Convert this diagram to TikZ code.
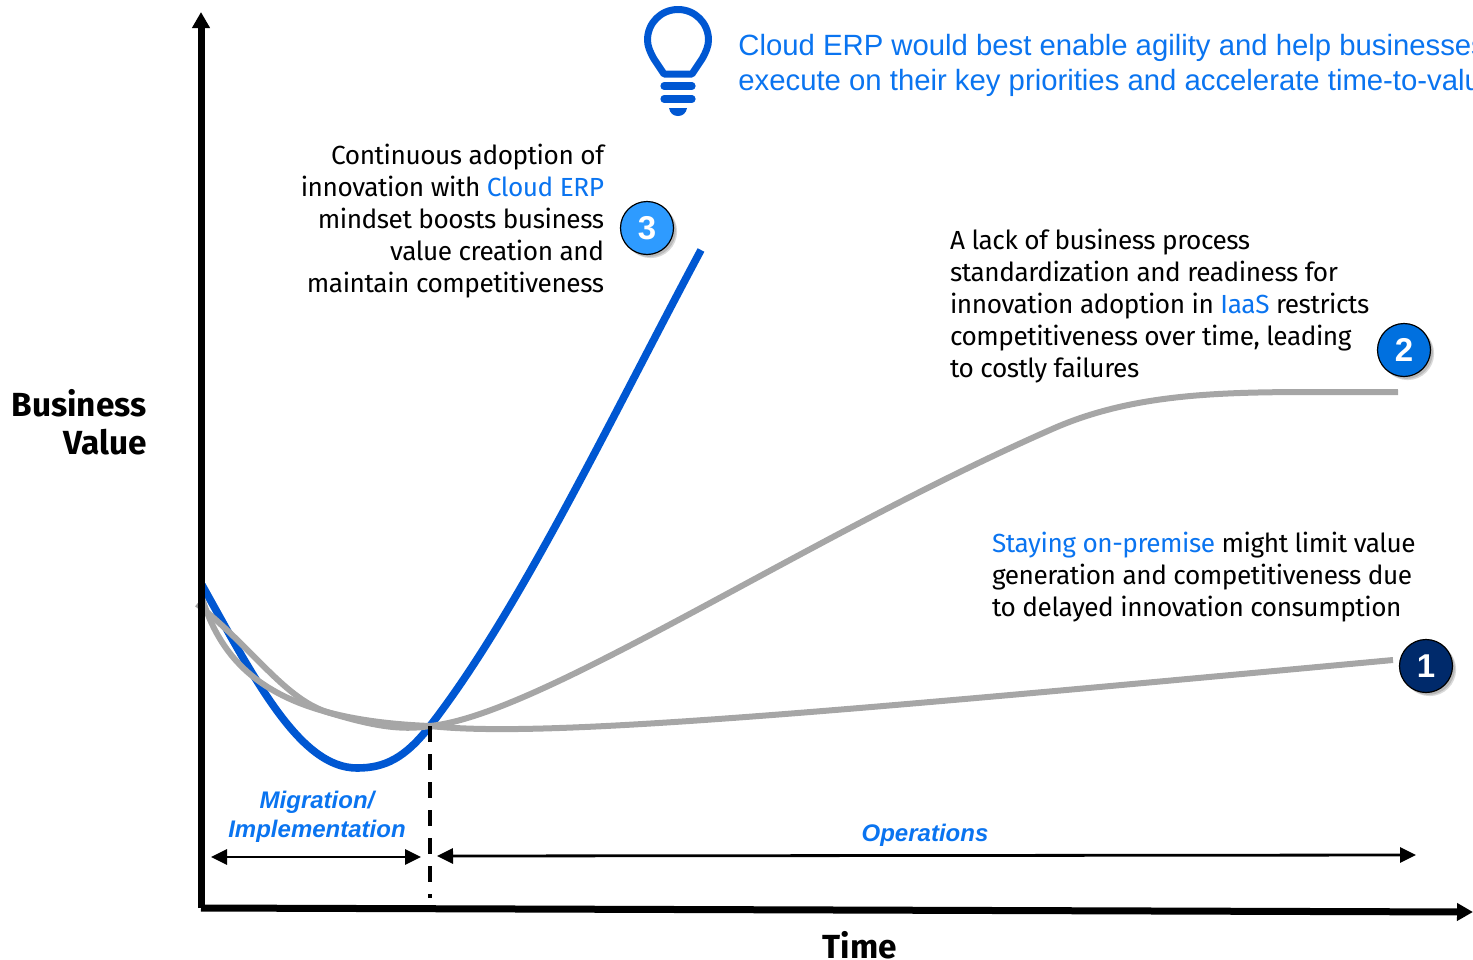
\documentclass[tikz,border=0pt]{standalone}
\usepackage{fontspec}
\setmainfont{Fira Sans}[LetterSpace=-1.7]
\newfontfamily\boldf{Fira Sans}
\newfontfamily\arialf{Liberation Sans}
\usetikzlibrary{arrows.meta,shadows}
\definecolor{txtblue}{HTML}{0A74F0}
\definecolor{linblue}{HTML}{0057D2}
\definecolor{curvegray}{HTML}{A6A6A6}
\definecolor{badgeA}{HTML}{002A6B}
\definecolor{badgeB}{HTML}{0070DF}
\definecolor{badgeC}{HTML}{2E9BFF}
\tikzset{
  x=0.5pt,y=-0.5pt,
  body/.style={inner sep=0pt,outer sep=0pt,font=\fontsize{13.1}{16}\selectfont},
  lefttxt/.style={body,anchor=north west,align=left},
  righttxt/.style={body,anchor=north east,align=right},
  headline/.style={inner sep=0pt,anchor=north west,align=left,text=txtblue,font=\arialf\fontsize{14.65}{17.5}\selectfont},
  phase/.style={inner sep=0pt,align=center,text=txtblue,font=\arialf\bfseries\itshape\fontsize{12}{14.5}\selectfont},
  axislabel/.style={inner sep=0pt,align=right,font=\boldf\bfseries\fontsize{16.7}{19}\selectfont},
  badge/.style={circle,draw=black,line width=0.6pt,minimum size=26.5pt,inner sep=0pt,text=white,
    font=\arialf\bfseries\fontsize{16.5}{16.5}\selectfont,
    drop shadow={shadow xshift=1.2pt,shadow yshift=-1.2pt,opacity=.15,fill=black},
    drop shadow={shadow xshift=1.8pt,shadow yshift=-1.8pt,opacity=.15,fill=black}},
  axisline/.style={line width=3.5pt,black,-{Triangle[length=8pt,width=8.5pt]}},
  span/.style={line width=1.4pt,black,{Triangle[length=8pt,width=7.5pt]}-{Triangle[length=8pt,width=7.5pt]}},
  graycurve/.style={line width=3pt,curvegray},
  bluecurve/.style={line width=3.8pt,linblue},
  bulb/.style={linblue,line width=3.5pt,line join=round},
  bulbbar/.style={linblue,line width=3.6pt,line cap=round}
}
\begin{document}
\begin{tikzpicture}
\useasboundingbox (0,0) rectangle (1473,959);
% curves
\coordinate (pivot) at (430,726);
\draw[bluecurve] (202,585) .. controls (255,680) and (300,768) .. (357,768) .. controls (385,768) and (405,758) .. (pivot) .. controls (520,610) and (610,420) .. (701,250);
\draw[graycurve] (202,598) .. controls (225,672) and (280,720) .. (pivot) .. controls (540,738) and (800,715) .. (1393,660);
\draw[graycurve] (197,604) .. controls (255,650) and (285,700) .. (330,713) .. controls (370,725) and (400,731) .. (pivot) .. controls (540,715) and (800,540) .. (1050,430) .. controls (1150,385) and (1260,393) .. (1398,392);
% axes
\coordinate (origin) at (201,908);
\coordinate (ytop) at (201,12);
\coordinate (xend) at (1473,912);
\draw[axisline] (origin) -- (ytop);
\draw[axisline] (origin) -- (xend);
% divider and spans
\coordinate (divend) at (430,898);
\draw[black,line width=2pt,dash pattern=on 8pt off 6pt] (pivot) -- (divend);
\coordinate (ma) at (211,857);\coordinate (mb) at (421,857);
\coordinate (oa) at (437,856);\coordinate (ob) at (1416,855);
\draw[span] (ma) -- (mb);
\draw[span] (oa) -- (ob);
% bulb
\draw[bulb] (664,74) -- (654,59) .. controls (650,52) and (647.5,46) .. (647.5,40) .. controls (647.5,23) and (661,9.5) .. (678,9.5) .. controls (695,9.5) and (708.5,23) .. (708.5,40) .. controls (708.5,46) and (706,52) .. (702,59) -- (692,74) -- cycle;
\draw[bulbbar] (664,86) -- (692,86);
\draw[bulbbar] (664,99) -- (692,99);
\fill[linblue] (669,108) -- (687,108) .. controls (686,113) and (683,116) .. (678,116) .. controls (673,116) and (670,113) .. (669,108) -- cycle;
% texts
\node[headline] (head) at (738,34) {Cloud ERP would best enable agility and help businesses\\execute on their key priorities and accelerate time-to-value};
\node[righttxt] (t3) at (604,144) {Continuous adoption of\\innovation with \textcolor{txtblue}{Cloud ERP}\\mindset boosts business\\value creation and\\maintain competitiveness};
\node[lefttxt] (t2) at (950,229) {A lack of business process\\standardization and readiness for\\innovation adoption in \textcolor{txtblue}{IaaS} restricts\\competitiveness over time, leading\\to costly failures};
\node[lefttxt] (t1) at (992,532) {\textcolor{txtblue}{Staying on-premise} might limit value\\generation and competitiveness due\\to delayed innovation consumption};
\node[axislabel,anchor=east] (by) at (147,422) {Business\\Value};
\node[axislabel] (bx) at (860,945) {Time};
\node[phase] (mig) at (317,817) {Migration/\\Implementation};
\node[phase] (ops) at (925,835) {Operations};
% badges
\node[badge,fill=badgeC] (b3) at (647,228) {3};
\node[badge,fill=badgeB] (b2) at (1404,350) {2};
\node[badge,fill=badgeA] (b1) at (1426,666) {1};
\end{tikzpicture}
\end{document}
